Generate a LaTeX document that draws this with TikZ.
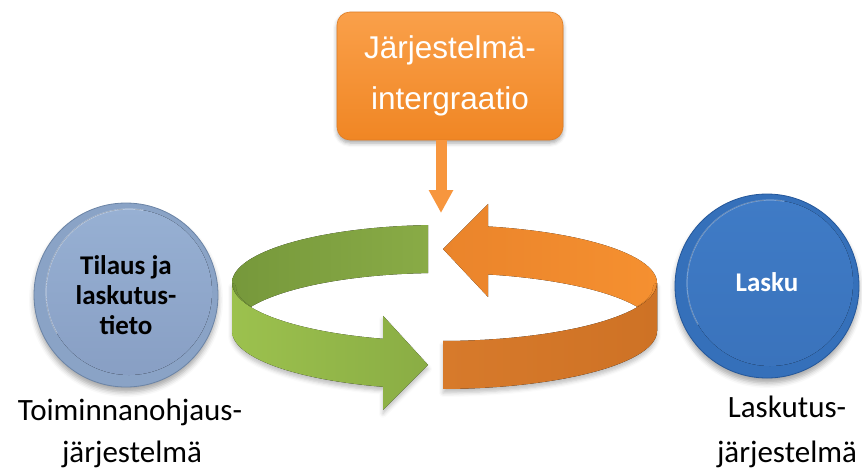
\documentclass[tikz,border=0pt]{standalone}
\usepackage{fontspec}
\setmainfont{Carlito}
\newfontfamily\boxfont{Liberation Sans}
\usetikzlibrary{shadows.blur, arrows.meta}

\definecolor{boxTop}{HTML}{FAA04A}
\definecolor{boxBot}{HTML}{F08624}
\definecolor{boxEdge}{HTML}{E07C22}
\definecolor{flowArrow}{HTML}{F7963E}
\definecolor{greenBackL}{HTML}{76983B}
\definecolor{greenBackR}{HTML}{89AB46}
\definecolor{greenFrontL}{HTML}{9CC14E}
\definecolor{greenFrontR}{HTML}{8AAD44}
\definecolor{orangeBackL}{HTML}{EA842B}
\definecolor{orangeBackR}{HTML}{F59030}
\definecolor{orangeFrontL}{HTML}{D77A2B}
\definecolor{orangeFrontR}{HTML}{CE7225}
\definecolor{lightRim}{HTML}{8AA3C6}
\definecolor{lightEdge}{HTML}{6B84A6}
\definecolor{lightFaceT}{HTML}{97B0D3}
\definecolor{lightFaceB}{HTML}{889FC4}
\definecolor{darkRim}{HTML}{3570BA}
\definecolor{darkEdge}{HTML}{24579A}
\definecolor{darkFaceT}{HTML}{3F7BC6}
\definecolor{darkFaceB}{HTML}{3A73BC}

\begin{document}
\begin{tikzpicture}[x=1pt,y=-1pt,
  topbox/.style={rectangle, rounded corners=13pt, minimum width=226pt,
    minimum height=128pt, top color=boxTop, bottom color=boxBot,
    draw=boxEdge, line width=0.6pt, text=white, align=center,
    font=\boxfont\fontsize{31.5}{51}\selectfont,
    blur shadow={shadow xshift=0pt, shadow yshift=-3pt, shadow blur radius=4pt, shadow opacity=35}},
  disc/.style={circle, minimum size=184pt, inner sep=0pt,
    blur shadow={shadow xshift=0pt, shadow yshift=-5pt, shadow blur radius=5pt, shadow opacity=35}},
  disctext/.style={font=\bfseries\fontsize{27}{30}\selectfont, align=center},
  caption/.style={font=\fontsize{31}{36}\selectfont, text=black, inner sep=0pt, anchor=base},
  bandshadow/.style={blur shadow={shadow xshift=0pt, shadow yshift=-4pt, shadow blur radius=4pt, shadow opacity=25}}
]
\useasboundingbox (0,0) rectangle (862,472);

% ring geometry shared by both ribbons
\def\cx{440}\def\cy{307}\def\rb{58}\def\hh{24}
\def\ag{208}\def\ao{217}

% ---- green ribbon: back (inner side) ----
\fill[left color=greenBackL, right color=greenBackR]
  plot[domain=266.7:180, samples=60, variable=\t] ({\cx+\ag*cos(\t)},{\cy+\rb*sin(\t)-\hh})
  -- plot[domain=180:266.7, samples=60, variable=\t] ({\cx+\ag*cos(\t)},{\cy+\rb*sin(\t)+\hh})
  -- cycle;

% ---- orange ribbon: back (with arrow head) ----
\fill[left color=orangeBackL, right color=orangeBackR]
  plot[domain=0:-77.2, samples=60, variable=\t] ({\cx+\ao*cos(\t)},{\cy+\rb*sin(\t)-\hh})
  -- ({\cx+\ao*cos(-77.2)},{\cy+\rb*sin(-77.2)-46.5})
  -- ({\cx+\ao*cos(-89.2)},{\cy+\rb*sin(-89.2)})
  -- ({\cx+\ao*cos(-77.2)},{\cy+\rb*sin(-77.2)+46.5})
  -- plot[domain=-77.2:0, samples=60, variable=\t] ({\cx+\ao*cos(\t)},{\cy+\rb*sin(\t)+\hh})
  -- cycle;

% ---- green ribbon: front (with arrow head) ----
\fill[bandshadow, left color=greenFrontL, right color=greenFrontR]
  plot[domain=180:105.9, samples=60, variable=\t] ({\cx+\ag*cos(\t)},{\cy+\rb*sin(\t)-\hh})
  -- ({\cx+\ag*cos(105.9)},{\cy+\rb*sin(105.9)-47})
  -- ({\cx+\ag*cos(93.3)},{\cy+\rb*sin(93.3)})
  -- ({\cx+\ag*cos(105.9)},{\cy+\rb*sin(105.9)+47})
  -- plot[domain=105.9:180, samples=60, variable=\t] ({\cx+\ag*cos(\t)},{\cy+\rb*sin(\t)+\hh})
  -- cycle;

% ---- orange ribbon: front ----
\fill[bandshadow, left color=orangeFrontL, right color=orangeFrontR]
  plot[domain=89.2:0, samples=60, variable=\t] ({\cx+\ao*cos(\t)},{\cy+\rb*sin(\t)-\hh})
  -- plot[domain=0:89.2, samples=60, variable=\t] ({\cx+\ao*cos(\t)},{\cy+\rb*sin(\t)+\hh})
  -- cycle;

% ---- integration box and its arrow ----
\node[topbox] (integ) at (450,76) {J\"arjestelm\"a-\\intergraatio};
\coordinate (integTip) at (441,213);
\draw[flowArrow, line width=11pt, -{Triangle[width=23pt, length=23pt]}]
  (integ.south -| integTip) -- (integTip);

% ---- left disc ----
\node[disc, fill=lightRim, draw=lightEdge, line width=0.8pt] (order) at (126,295) {};
\fill[top color=lightFaceT, bottom color=lightFaceB] (129,292) circle[radius=83];
\draw[white, opacity=0.35, line width=1.2pt] (129,292) ++(150:83) arc[start angle=150, end angle=280, radius=83];
\node[disctext, text=black] (orderText) at (order.center)
  {Tilaus ja\\laskutus-\\tieto};

% ---- right disc ----
\node[disc, fill=darkRim, draw=darkEdge, line width=0.8pt] (invoice) at (767,286) {};
\fill[top color=darkFaceT, bottom color=darkFaceB] (770,283) circle[radius=83];
\draw[white, opacity=0.3, line width=1.2pt] (770,283) ++(150:83) arc[start angle=150, end angle=280, radius=83];
\node[disctext, text=white] (invoiceText) at ([yshift=4pt]invoice.center) {Lasku};

% ---- captions ----
\node[caption] (erpA) at (130,420) {Toiminnanohjaus-};
\node[caption] (erpB) at (132,462) {j\"arjestelm\"a};
\node[caption] (billA) at (787,417) {Laskutus-};
\node[caption] (billB) at (787,462) {j\"arjestelm\"a};
\end{tikzpicture}
\end{document}
